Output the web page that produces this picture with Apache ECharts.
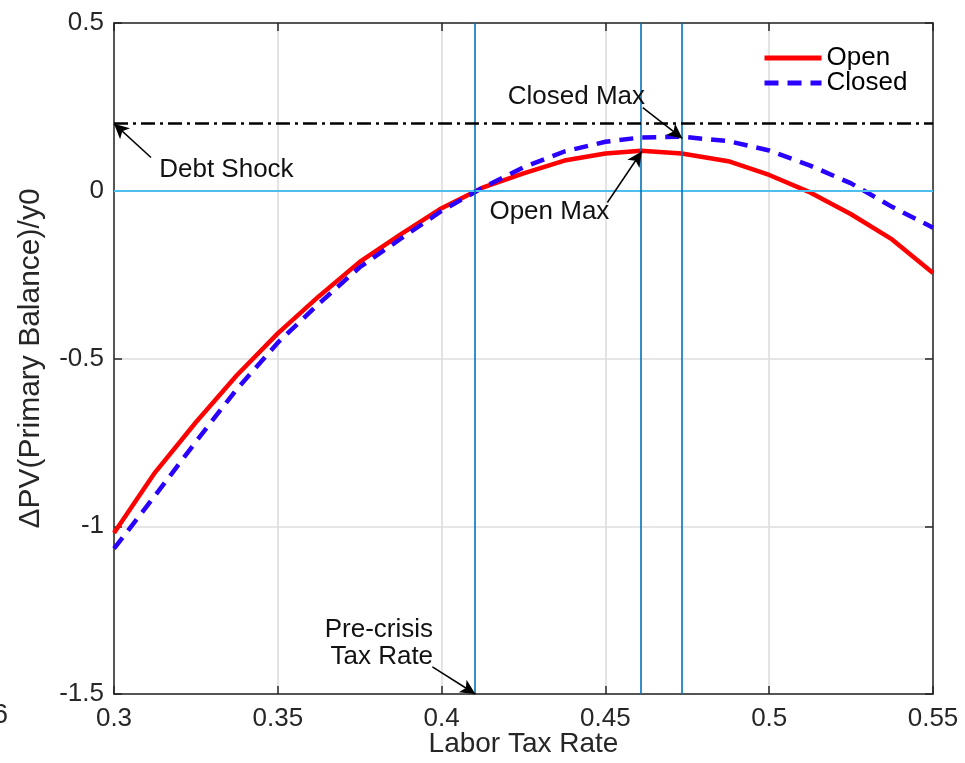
<!DOCTYPE html>
<html>
<head>
<meta charset="utf-8">
<script src="https://cdn.jsdelivr.net/npm/echarts@6/dist/echarts.min.js"></script>
<style>
html,body{margin:0;padding:0;background:#fff;}
#chart{width:965px;height:763px;}
</style>
</head>
<body>
<div id="chart"></div>
<script>
// ---- data ----
const taxRate  = [0.3, 0.3125, 0.325, 0.3375, 0.35, 0.3625, 0.375, 0.3875, 0.4, 0.4125, 0.425, 0.4375, 0.45, 0.4609, 0.4733, 0.4875, 0.5, 0.5125, 0.525, 0.5375, 0.55];
const openPV   = [-1.02, -0.84, -0.69, -0.55, -0.425, -0.315, -0.212, -0.13, -0.052, 0.009, 0.052, 0.09, 0.111, 0.119, 0.111, 0.088, 0.047, -0.005, -0.07, -0.145, -0.245];
const closedPV = [-1.067, -0.909, -0.748, -0.591, -0.453, -0.337, -0.228, -0.143, -0.06, 0.009, 0.07, 0.117, 0.146, 0.159, 0.161, 0.148, 0.12, 0.075, 0.022, -0.048, -0.11];
const seriesNames = ['Open', 'Closed'];
const xTicks = [0.3, 0.35, 0.4, 0.45, 0.5, 0.55];
const yTicks = [-1.5, -1, -0.5, 0, 0.5];
const debtShock = 0.2;
const preCrisisRate = 0.4101;
const openMaxRate = 0.4609;
const closedMaxRate = 0.4733;
const notes = [
  {text: 'Debt Shock', x: 0.3138, y: 0.0626, align: 'left'},
  {text: 'Closed Max', x: 0.4202, y: 0.280, align: 'left'},
  {text: 'Open Max', x: 0.4146, y: -0.0626, align: 'left'},
  {text: 'Pre-crisis\nTax Rate', x: 0.3974, y: -1.349, align: 'right'}
];
const arrows = [
  [0.3113, 0.099, 0.3, 0.2],
  [0.4614, 0.248, 0.4735, 0.156],
  [0.4506, -0.035, 0.4611, 0.117],
  [0.3972, -1.419, 0.4103, -1.5]
];

const FONT = '"Liberation Sans", Arial, Helvetica, sans-serif';
const AX = '#262626';
const chart = echarts.init(document.getElementById('chart'), null, {renderer: 'canvas'});

const fmt = v => String(+(+v).toFixed(2));
const baseX = {
  type: 'value', min: xTicks[0], max: xTicks[xTicks.length - 1], interval: 0.05,
  axisLine: {show: true, onZero: false, lineStyle: {color: AX, width: 1.5}},
  axisTick: {show: true, inside: true, length: 8, lineStyle: {color: AX, width: 1.5}},
  splitLine: {show: false}
};
const baseY = {
  type: 'value', min: yTicks[0], max: yTicks[yTicks.length - 1], interval: 0.5,
  axisLine: {show: true, onZero: false, lineStyle: {color: AX, width: 1.5}},
  axisTick: {show: true, inside: true, length: 8, lineStyle: {color: AX, width: 1.5}},
  splitLine: {show: false}
};
const vline = (x, color) => [
  {coord: [x, yTicks[0]], lineStyle: {color: color, width: 1.6, type: 'solid'}},
  {coord: [x, yTicks[yTicks.length - 1]]}
];
const hline = (y, style) => [
  {coord: [xTicks[0], y], lineStyle: style},
  {coord: [xTicks[xTicks.length - 1], y]}
];

const option = {
  animation: false,
  backgroundColor: '#fff',
  textStyle: {fontFamily: FONT},
  grid: {left: 114, right: 32, top: 23, bottom: 69, containLabel: false, outerBoundsMode: 'none'},
  legend: {
    data: seriesNames, orient: 'vertical', left: 757, top: 40,
    itemWidth: 57, itemHeight: 14, itemGap: -1,
    itemStyle: {opacity: 0},
    lineStyle: {width: 5},
    textStyle: {fontFamily: FONT, fontSize: 26, color: '#000', padding: [0, 0, 0, 0]}
  },
  xAxis: [
    Object.assign({}, baseX, {
      position: 'bottom',
      name: 'Labor Tax Rate', nameLocation: 'middle', nameGap: 36, nameMoveOverlap: false,
      nameTextStyle: {fontFamily: FONT, fontSize: 28, color: '#262626'},
      axisLabel: {fontFamily: FONT, fontSize: 26, color: '#262626', margin: 12, formatter: fmt},
      splitLine: {show: true, lineStyle: {color: '#dedede', width: 1.6}}
    }),
    Object.assign({}, baseX, {position: 'top', axisLabel: {show: false}})
  ],
  yAxis: [
    Object.assign({}, baseY, {
      position: 'left',
      name: 'ΔPV(Primary Balance)/y0', nameLocation: 'middle', nameGap: 68,
      nameTextStyle: {fontFamily: FONT, fontSize: 30, color: '#262626'},
      axisLabel: {fontFamily: FONT, fontSize: 26, color: '#262626', margin: 10, formatter: fmt},
      splitLine: {show: true, lineStyle: {color: '#dedede', width: 1.6}}
    }),
    Object.assign({}, baseY, {position: 'right', axisLabel: {show: false}})
  ],
  series: [
    {
      name: 'refs', type: 'line', data: [], z: 1, silent: true,
      markLine: {
        silent: true, symbol: ['none', 'none'], animation: false, precision: 6,
        label: {show: false},
        data: [
          hline(0, {color: '#4DBEEE', width: 1.8, type: 'solid'}),
          vline(preCrisisRate, '#0072BD'),
          vline(openMaxRate, '#0072BD'),
          vline(closedMaxRate, '#0072BD'),
          hline(debtShock, {color: '#000', width: 2.5, type: [14, 5, 3, 5]})
        ]
      }
    },
    {
      name: 'Open', type: 'line', z: 3, symbol: 'none', showSymbol: false,
      data: taxRate.map((x, i) => [x, openPV[i]]),
      lineStyle: {color: '#ff0000', width: 4.5}, itemStyle: {color: '#ff0000'}
    },
    {
      name: 'Closed', type: 'line', z: 4, symbol: 'none', showSymbol: false,
      data: taxRate.map((x, i) => [x, closedPV[i]]),
      lineStyle: {color: '#2a00ff', width: 4.5, type: [14, 9]}, itemStyle: {color: '#2a00ff'}
    },
    {
      name: 'arrows', type: 'line', data: [], z: 5, silent: true,
      markLine: {
        silent: true, animation: false, label: {show: false}, precision: 6,
        symbol: ['none', 'arrow'], symbolSize: [11, 15],
        lineStyle: {color: '#000', width: 1.5, type: 'solid'},
        itemStyle: {color: '#000'},
        data: arrows.map(a => [{coord: [a[0], a[1]]}, {coord: [a[2], a[3]]}])
      }
    }
  ]
};
chart.setOption(option);

const g = notes.map(n => {
  const p = chart.convertToPixel({xAxisIndex: 0, yAxisIndex: 0}, [n.x, n.y]);
  return {
    type: 'text', x: p[0], y: p[1], z: 10,
    style: {text: n.text, fontFamily: FONT, fontSize: 26, fill: '#111', align: n.align, verticalAlign: 'middle', lineHeight: 27}
  };
});
g.push({type: 'text', x: -7, y: 716, style: {text: '6', fontFamily: FONT, fontSize: 27, fill: '#262626', verticalAlign: 'middle'}});
chart.setOption({graphic: g});
</script>
</body>
</html>
